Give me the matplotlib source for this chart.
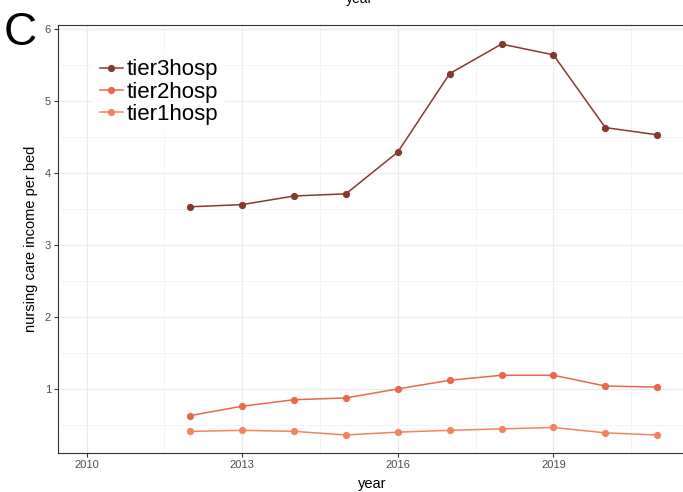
import matplotlib
matplotlib.use("Agg")
import matplotlib.pyplot as plt
from matplotlib.ticker import FixedLocator

plt.rcParams['font.family'] = ['Liberation Sans', 'DejaVu Sans']

years = [2012, 2013, 2014, 2015, 2016, 2017, 2018, 2019, 2020, 2021]
tier3hosp = [3.53, 3.56, 3.68, 3.71, 4.29, 5.38, 5.79, 5.64, 4.63, 4.53]
tier2hosp = [0.63, 0.76, 0.85, 0.875, 1.0, 1.12, 1.19, 1.19, 1.04, 1.025]
tier1hosp = [0.41, 0.425, 0.41, 0.36, 0.40, 0.425, 0.445, 0.465, 0.39, 0.36]
xticks = [2010, 2013, 2016, 2019]
yticks = [1, 2, 3, 4, 5, 6]

series = [("tier3hosp", tier3hosp, "#853A2E"),
          ("tier2hosp", tier2hosp, "#E8694A"),
          ("tier1hosp", tier1hosp, "#F4845F")]

fig = plt.figure(figsize=(6.83, 4.92), dpi=100)
ax = fig.add_axes([58/683, 1-453/492, 1.004-58/683, (453-25)/492])

for name, vals, col in series:
    ax.plot(years, vals, color=col, lw=1.1, marker='o', ms=4.2, label=name)

ax.set_xlim(2009.45, 2021.55)
ax.set_ylim(0.11, 6.055)
ax.xaxis.set_major_locator(FixedLocator(xticks))
ax.xaxis.set_minor_locator(FixedLocator([2011.5, 2014.5, 2017.5, 2020.5]))
ax.yaxis.set_major_locator(FixedLocator(yticks))
ax.yaxis.set_minor_locator(FixedLocator([0.5, 1.5, 2.5, 3.5, 4.5, 5.5]))
ax.grid(which='major', color='#EBEBEB', lw=0.8)
ax.grid(which='minor', color='#F3F3F3', lw=0.6)
ax.set_axisbelow(True)
for s in ax.spines.values():
    s.set_color('#333333')
    s.set_linewidth(0.8)
ax.tick_params(which='major', color='#333333', length=3, width=0.8,
               labelsize=8, labelcolor='#4D4D4D', pad=2)
ax.tick_params(which='minor', length=0)
ax.set_xlabel('year', fontsize=10.5, labelpad=5)
ax.set_ylabel('nursing care income per bed', fontsize=10.5, labelpad=5)

leg = ax.legend(loc='upper left', bbox_to_anchor=(0.056, 0.935), fontsize=16,
                frameon=True, framealpha=1, edgecolor='none', facecolor='white',
                handlelength=1.05, handletextpad=0.15, labelspacing=0.05,
                borderpad=0.3, borderaxespad=0)

fig.text(4/683, 1-45/492, 'C', fontsize=33, ha='left', va='baseline')
fig.text(360/683, 1-6/492, 'year', fontsize=10, ha='center', va='bottom')

fig.savefig('out.png', dpi=100)
